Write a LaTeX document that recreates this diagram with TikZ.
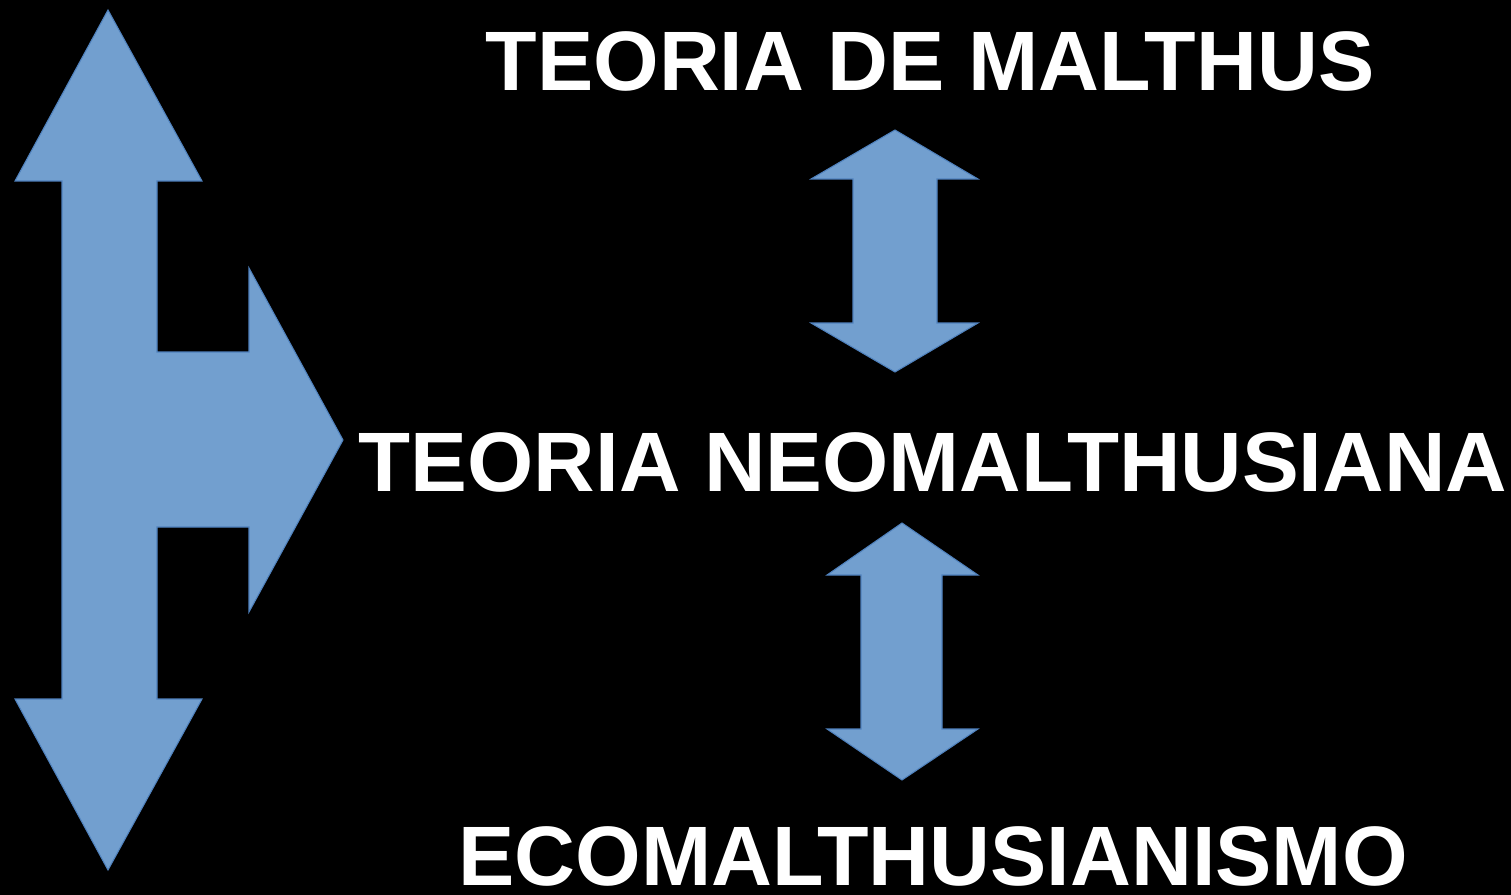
\documentclass[tikz,border=0pt]{standalone}
\usepackage{fontspec}
\setmainfont{Liberation Sans}
\usepackage{xcolor}
\definecolor{arrowblue}{RGB}{114,159,207}
\definecolor{arrowedge}{RGB}{79,129,189}
\tikzset{
  arrowshape/.style={fill=arrowblue, draw=arrowedge, line width=0.6pt, line join=miter},
  titletext/.style={text=white, inner sep=0pt, anchor=base, font=\fontsize{48}{58}\selectfont\bfseries}
}

\begin{document}
\begin{tikzpicture}[x=0.02cm, y=-0.02cm]
    \fill[black] (0,0) rectangle (1511,895);
    \useasboundingbox (0,0) rectangle (1511,895);
    % big arrow on the left
    \filldraw[arrowshape] (108,10) -- (202,181) -- (157,181) -- (157,352) -- (249,352) -- (249,268)
      -- (343,440) -- (249,612) -- (249,527) -- (157,527) -- (157,699) -- (202,699)
      -- (108,870) -- (15,699) -- (62,699) -- (62,181) -- (15,181) --cycle;
    % small arrows between the titles
    \filldraw[arrowshape] (895,130) -- (978,179) -- (937,179) -- (937,323) -- (978,323) -- (895,372)
      -- (811,323) -- (853,323) -- (853,179) -- (811,179) --cycle;
    \filldraw[arrowshape] (902,523) -- (978,575) -- (942,575) -- (942,729) -- (978,729) -- (902,780)
      -- (827,729) -- (861,729) -- (861,575) -- (827,575) --cycle;
    \node[titletext] (malthus) at (930,91) {TEORIA DE MALTHUS};
    \node[titletext, xscale=1.01] (neo) at (933,491) {TEORIA NEOMALTHUSIANA};
    \node[titletext] (eco) at (933,885) {ECOMALTHUSIANISMO};
  \end{tikzpicture}
\end{document}
